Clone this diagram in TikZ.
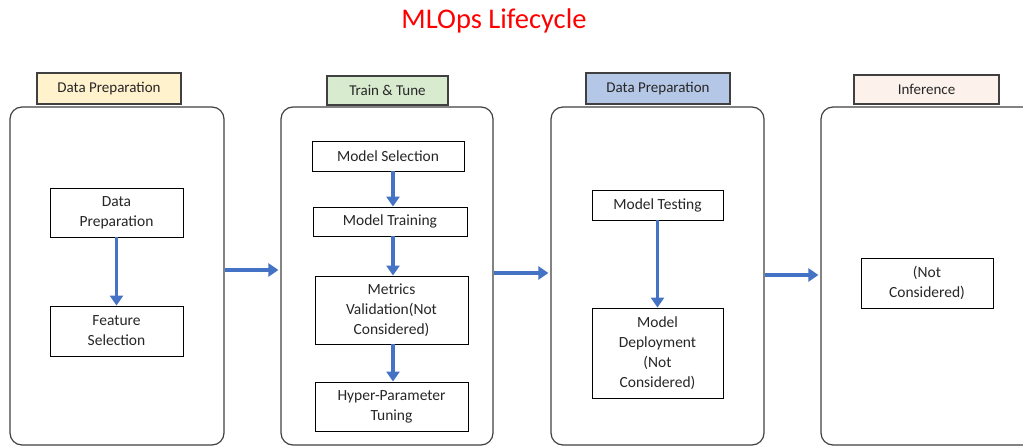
\documentclass[tikz,border=0pt]{standalone}
\usepackage{fontspec}
\setmainfont{Carlito}
\usetikzlibrary{arrows.meta}
\definecolor{arrblue}{HTML}{4472C4}
\definecolor{lyellow}{HTML}{FFF2CC}
\definecolor{lgreen}{HTML}{D8EBCF}
\definecolor{lblue}{HTML}{B4C7E7}
\definecolor{lpeach}{HTML}{FCF1EB}
\definecolor{titlered}{HTML}{FF0000}
\definecolor{panelgray}{HTML}{404040}
\definecolor{txt}{HTML}{262626}
\tikzset{
  panel/.style={draw=panelgray, line width=1.2pt, rounded corners=12pt, inner sep=0pt},
  tag/.style={draw=panelgray, line width=1.1pt, inner sep=0pt, font=\fontsize{15}{18}\selectfont, text=txt},
  box/.style={draw=black, line width=0.9pt, inner sep=0pt, align=center, font=\fontsize{15.5}{20}\selectfont, text=txt},
  arr/.style={arrblue, line width=3.8pt, -{Triangle[width=13pt,length=10pt]}},
}
\begin{document}
\begin{tikzpicture}[x=1pt,y=-1pt]
\useasboundingbox (0,0) rectangle (1023,447);
\clip (0,0) rectangle (1023,447);
\node[font=\fontsize{28.5}{33}\selectfont, text=titlered] (title) at (494,21) {MLOps Lifecycle};

% panels
\node[panel, minimum width=214pt, minimum height=338pt] (p1) at (117,276) {};
\node[panel, minimum width=212pt, minimum height=338pt] (p2) at (387,276) {};
\node[panel, minimum width=213pt, minimum height=338pt] (p3) at (657.5,276) {};
\node[panel, minimum width=279pt, minimum height=338pt] (p4) at (960.5,276) {};

% tags
\node[tag, fill=lyellow, minimum width=144pt, minimum height=31pt] (t1) at (109,88.5) {Data Preparation};
\node[tag, fill=lgreen, minimum width=121pt, minimum height=29pt] (t2) at (387.5,90.5) {Train \& Tune};
\node[tag, fill=lblue, minimum width=144pt, minimum height=31pt] (t3) at (658,88.5) {Data Preparation};
\node[tag, fill=lpeach, minimum width=145pt, minimum height=29pt] (t4) at (926.5,89.5) {Inference};

% inner boxes
\node[box, minimum width=133pt, minimum height=49pt] (a1) at (116.5,212.5) {Data\\Preparation};
\node[box, minimum width=133pt, minimum height=50pt] (a2) at (116.5,331) {Feature\\Selection};

\node[box, minimum width=152pt, minimum height=30pt] (b1) at (388,156) {Model Selection};
\node[box, minimum width=154pt, minimum height=29pt] (b2) at (390,221.5) {Model Training};
\node[box, minimum width=153pt, minimum height=68pt] (b3) at (391.5,310) {Metrics\\Validation(Not\\Considered)};
\node[box, minimum width=153pt, minimum height=49pt] (b4) at (391.5,406.5) {Hyper-Parameter\\Tuning};

\node[box, minimum width=131pt, minimum height=30pt] (c1) at (657.5,205) {Model Testing};
\node[box, minimum width=131pt, minimum height=90pt] (c2) at (657.5,353) {Model\\Deployment\\(Not\\Considered)};

\node[box, minimum width=132pt, minimum height=50pt] (d1) at (927,283) {(Not\\Considered)};

% vertical arrows
\draw[arr] (a1.south) -- (a2.north);
\draw[arr] (b1.south -| 393,0) -- (b2.north -| 393,0);
\draw[arr] (b2.south -| 393,0) -- (b3.north -| 393,0);
\draw[arr] (b3.south -| 393,0) -- (b4.north -| 393,0);
\draw[arr] (c1.south) -- (c2.north);

% horizontal arrows
\coordinate (y1) at (0,270);
\coordinate (y2) at (0,273);
\coordinate (y3) at (0,275);
\draw[arr, shorten >=2pt] (p1.east |- y1) -- (p2.west |- y1);
\draw[arr, shorten >=2pt] (p2.east |- y2) -- (p3.west |- y2);
\draw[arr, shorten >=2pt] (p3.east |- y3) -- (p4.west |- y3);
\end{tikzpicture}
\end{document}
